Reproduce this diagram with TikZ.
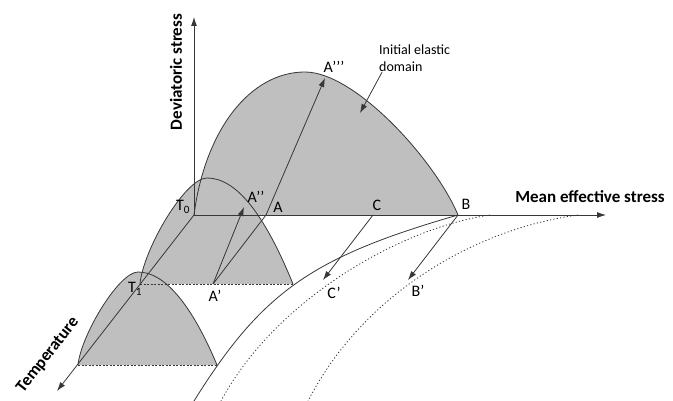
\documentclass[tikz,border=0pt]{standalone}
\usepackage{fontspec}
\setmainfont{Carlito}
\usetikzlibrary{arrows.meta}
\definecolor{dom}{RGB}{191,191,191}
\definecolor{ink}{RGB}{55,55,55}

\begin{document}
\begin{tikzpicture}[x=1pt,y=-1pt,font=\fontsize{16}{18}\selectfont,
  >={Latex[length=9pt,width=6pt]},
  ln/.style={draw=ink,line width=0.8pt},
  tbase/.style={ink,line width=0.8pt,dash pattern=on 2pt off 1.5pt},
  dotc/.style={ink,line width=0.8pt,dash pattern=on 1.2pt off 2.2pt},
  axlbl/.style={font=\fontsize{17}{19}\selectfont\bfseries}]
  \useasboundingbox (0,0) rectangle (673,401);
  % points
  \coordinate (O) at (194,215); \coordinate (T1) at (140,284); \coordinate (T2) at (78,365);
  \coordinate (A) at (266,215); \coordinate (Ap) at (213,284); \coordinate (App) at (244,207);
  \coordinate (Appp) at (325,78); \coordinate (B) at (458,215); \coordinate (Bp) at (408,280);
  \coordinate (C) at (373,215); \coordinate (Cp) at (323,280);
  \coordinate (M1) at (293,284); \coordinate (M2) at (217,365);
  \coordinate (qtip) at (194,17); \coordinate (ptip) at (606,215); \coordinate (ttip) at (57,391);
  % elastic domains
  \fill[dom] (O) .. controls (205,130) and (250,72) .. (305,72) .. controls (355,72) and (435,160) .. (B) -- cycle;
  \fill[dom] (T1) .. controls (143,250) and (185,178) .. (207,178) .. controls (236,178) and (264,213) .. (M1) -- cycle;
  \fill[dom] (T2) .. controls (81,335) and (119,272) .. (138,272) .. controls (164,272) and (191,303) .. (M2) -- cycle;
  \draw[ln] (O) .. controls (205,130) and (250,72) .. (305,72) .. controls (355,72) and (435,160) .. (B);
  \draw[ln] (T1) .. controls (143,250) and (185,178) .. (207,178) .. controls (236,178) and (264,213) .. (M1);
  \draw[ln] (T2) .. controls (81,335) and (119,272) .. (138,272) .. controls (164,272) and (191,303) .. (M2);
  \draw[tbase] (T1) -- (M1); \draw[tbase] (T2) -- (M2);
  % limit curves
  \draw[ln] (B) .. controls (312,257) and (262,292) .. (194,401);
  \draw[dotc] (490,215) .. controls (400,228) and (275,300) .. (221,401);
  \draw[dotc] (578,215) .. controls (480,228) and (365,290) .. (308,401);
  % axes
  \draw[ln,->] (O) -- (qtip); \draw[ln,->] (O) -- (ptip); \draw[ln,->] (O) -- (ttip);
  \node[axlbl,rotate=90] (qlbl) at (176,72) {Deviatoric stress};
  \node[axlbl] (plbl) at (590,197) {Mean effective stress};
  \node[axlbl,rotate=52] (tlbl) at (48,355) {Temperature};
  % paths
  \draw[ln] (Ap) -- (A); \draw[ln,->] (A) -- (Appp); \draw[ln,->] (Ap) -- (App);
  \draw[ln,->] (C) -- (Cp); \draw[ln,->] (B) -- (Bp);
  \node[align=left,anchor=north west,inner sep=0pt,font=\fontsize{14}{17}\selectfont] (domlbl) at (379,45) {Initial elastic\\domain};
  \coordinate (domtip) at (360,113);
  \draw[ln,->] ([xshift=3pt]domlbl.south west) -- (domtip);
  \node (lT0) at (183,207) {T\textsubscript{0}}; \node (lT1) at (135,289) {T\textsubscript{1}};
  \node (lA) at (278,207) {A}; \node (lAp) at (215,296) {A’};
  \node (lApp) at (256,197) {A’’}; \node (lAppp) at (334,67) {A’’’};
  \node (lB) at (466,204) {B}; \node (lBp) at (418,291) {B’};
  \node (lC) at (377,205) {C}; \node (lCp) at (334,293) {C’};
\end{tikzpicture}
\end{document}
